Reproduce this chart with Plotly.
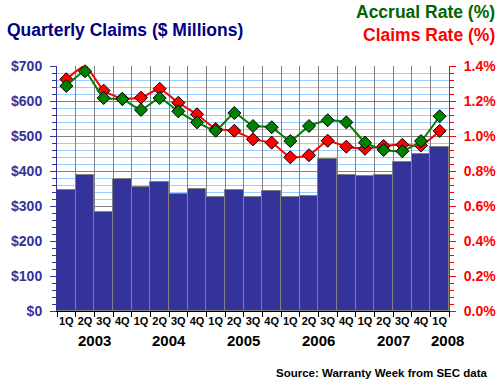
import plotly.graph_objects as go

quarters = ["1Q", "2Q", "3Q", "4Q"] * 5 + ["1Q"]
years = ["2003"] * 4 + ["2004"] * 4 + ["2005"] * 4 + ["2006"] * 4 + ["2007"] * 4 + ["2008"]
categories = [f"{q} {y}" for q, y in zip(quarters, years)]

claims = [345, 388, 284, 377, 353, 368, 334, 348, 325, 345, 325,
          342, 325, 330, 434, 390, 385, 388, 425, 448, 470]
accrual_rate = [1.286, 1.370, 1.217, 1.211, 1.149, 1.217, 1.141, 1.078, 1.030, 1.131, 1.057,
                1.050, 0.971, 1.057, 1.090, 1.078, 0.962, 0.920, 0.913, 0.971, 1.113]
claims_rate = [1.324, 1.402, 1.259, 1.213, 1.219, 1.270, 1.190, 1.124, 1.040, 1.030, 0.981,
               0.962, 0.878, 0.890, 0.973, 0.939, 0.927, 0.943, 0.950, 0.945, 1.029]
year_labels = ["2003", "2004", "2005", "2006", "2007", "2008"]
year_pos = [1.5, 5.5, 9.5, 13.5, 17.5, 20.4]

NAVY = "#333399"
FONT = "Liberation Sans, Arial, sans-serif"
W, H = 500, 385
L, R, T, B = 57, 449, 66, 311

fig = go.Figure()
fig.add_trace(go.Bar(x=categories, y=claims, marker=dict(color=NAVY, line=dict(color="#808080", width=1)),
                     width=1.0, showlegend=False))
fig.add_trace(go.Scatter(x=categories, y=claims_rate, yaxis="y2", mode="lines+markers", cliponaxis=False,
                         line=dict(color="#FF0000", width=2, shape="spline", smoothing=0.4),
                         marker=dict(symbol="diamond", size=10, color="#FF0000",
                                     line=dict(color="#000000", width=1)), showlegend=False))
fig.add_trace(go.Scatter(x=categories, y=accrual_rate, yaxis="y2", mode="lines+markers", cliponaxis=False,
                         line=dict(color="#008000", width=2, shape="spline", smoothing=0.4),
                         marker=dict(symbol="diamond", size=10, color="#008000",
                                     line=dict(color="#000000", width=1)), showlegend=False))

fig.update_layout(
    width=W, height=H, margin=dict(l=L, r=W - R, t=T, b=H - B, autoexpand=False),
    paper_bgcolor="white", plot_bgcolor="white",
    font=dict(family=FONT),
    bargap=0,
    xaxis=dict(type="category", tickson="boundaries", tickvals=categories, ticktext=quarters,
               showgrid=True, gridcolor="#808080", gridwidth=1,
               ticks="outside", ticklen=5, tickcolor="#000000",
               showline=True, linecolor="#000000", linewidth=1,
               tickfont=dict(family=FONT, size=11, color="#000000", weight="bold"),
               tickangle=0, range=[-0.5, 20.5], automargin=False),
    yaxis=dict(range=[0, 700], dtick=100, tickprefix="$", showgrid=True, gridcolor="#808080",
               ticks="outside", ticklen=6, tickcolor=NAVY, showline=True, linecolor=NAVY, linewidth=1,
               tickfont=dict(family=FONT, size=14, color=NAVY, weight="bold"), ticklabelstandoff=5,
               minor=dict(dtick=20, showgrid=True, gridcolor="#99CCFF", ticks="outside", ticklen=4,
                          tickcolor=NAVY),
               zeroline=False, automargin=False),
    yaxis2=dict(range=[0, 1.4], dtick=0.2, overlaying="y", side="right", tickformat=".1f", ticksuffix="%",
                showgrid=False, ticks="outside", ticklen=6, tickcolor="#FF0000", showline=True,
                linecolor="#FF0000", linewidth=1,
                tickfont=dict(family=FONT, size=14, color="#FF0000", weight="bold"), ticklabelstandoff=5,
                minor=dict(dtick=0.04, ticks="outside", ticklen=4, tickcolor="#FF0000"),
                zeroline=False, automargin=False),
)

for yl, xp in zip(year_labels, year_pos):
    fig.add_annotation(x=xp, y=0, xref="x", yref="paper", yshift=-29, text=yl, showarrow=False,
                       yanchor="middle",
                       font=dict(family=FONT, size=15, color="#000000", weight="bold"))


def add_fig_text(text, px, py, size, color, anchor):
    fx = (px - L) / (R - L)
    fy = (B - py) / (B - T)
    fig.add_annotation(x=fx, y=fy, xref="paper", yref="paper", text=text, showarrow=False,
                       xanchor=anchor, yanchor="middle",
                       font=dict(family=FONT, size=size, color=color, weight="bold"))


add_fig_text("Quarterly Claims ($ Millions)", 5, 30, 17.5, "#000080", "left")
add_fig_text("Accrual Rate (%)", 497, 12, 17.5, "#006600", "right")
add_fig_text("Claims Rate (%)", 497, 35, 17.5, "#FF0000", "right")
add_fig_text("Source: Warranty Week from SEC data", 489, 373, 11.5, "#000000", "right")

fig.write_html("out.html", config={"displayModeBar": False},
               post_script="document.body.style.margin='0';document.body.style.overflow='hidden';")
